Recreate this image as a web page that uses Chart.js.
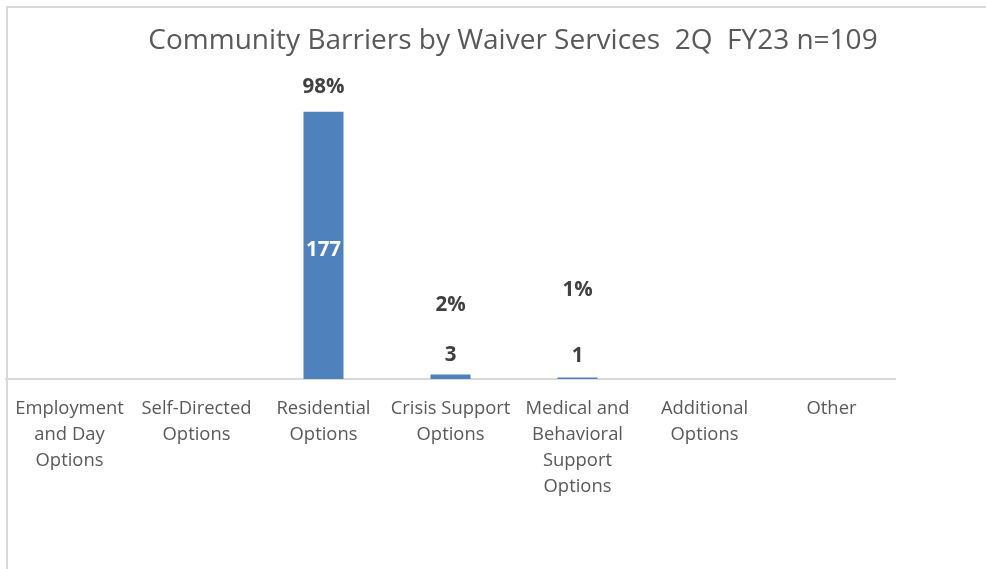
<!DOCTYPE html>
<html>
<head>
<meta charset="utf-8">
<script src="https://cdn.jsdelivr.net/npm/chart.js@4"></script>
<style>
  html, body { margin: 0; padding: 0; background: #fff; }
  #wrap { position: relative; width: 986px; height: 569px; overflow: hidden; }
  #frame { position: absolute; left: 6px; top: 6px; width: 1200px; height: 800px; border: 2px solid #d9d9d9; box-sizing: border-box; pointer-events: none; }
  canvas { position: absolute; left: 0; top: 0; }
</style>
</head>
<body>
<div id="wrap">
  <canvas id="c" width="986" height="569"></canvas>
  <div id="frame"></div>
</div>
<script>
const TITLE = 'Community Barriers by Waiver Services  2Q  FY23 n=109';
const categories = [
  ['Employment', 'and Day', 'Options'],
  ['Self-Directed', 'Options'],
  ['Residential', 'Options'],
  ['Crisis Support', 'Options'],
  ['Medical and', 'Behavioral', 'Support', 'Options'],
  ['Additional', 'Options'],
  ['Other']
];
const counts = [null, null, 177, 3, 1, null, null];
const percentLabels = [null, null, '98%', '2%', '1%', null, null];

// label placement (pixels above bar top); style, not data
const countOffset = { 2: 'inside', 3: 19, 4: 21 };
const pctOffset = { 2: 25, 3: 69, 4: 87 };

const labelPlugin = {
  id: 'labels',
  afterDatasetsDraw(chart) {
    const ctx = chart.ctx;
    const meta = chart.getDatasetMeta(0);
    ctx.save();
    ctx.textAlign = 'center';
    ctx.textBaseline = 'middle';
    ctx.font = 'bold 20.5px "Open Sans"';
    meta.data.forEach((bar, i) => {
      const v = counts[i];
      if (v == null) return;
      const off = countOffset[i];
      if (off === 'inside') {
        ctx.fillStyle = '#ffffff';
        ctx.fillText(String(v), bar.x, (bar.y + bar.base) / 2 + 5);
      } else {
        ctx.fillStyle = '#404040';
        ctx.fillText(String(v), bar.x, bar.y - off);
      }
      if (percentLabels[i]) {
        ctx.fillStyle = '#404040';
        ctx.fillText(percentLabels[i], bar.x, bar.y - pctOffset[i]);
      }
    });
    ctx.restore();
  }
};

const titlePlugin = {
  id: 'customTitle',
  afterDraw(chart) {
    const ctx = chart.ctx;
    ctx.save();
    ctx.font = '28px "Open Sans"';
    ctx.fillStyle = '#595959';
    ctx.textAlign = 'center';
    ctx.textBaseline = 'middle';
    ctx.fillText(TITLE, 513, 41);
    ctx.restore();
  }
};

new Chart(document.getElementById('c'), {
  type: 'bar',
  data: {
    labels: categories,
    datasets: [{
      data: counts,
      backgroundColor: '#4f81bd',
      borderWidth: 0,
      barPercentage: 0.315,
      categoryPercentage: 1.0
    }]
  },
  options: {
    responsive: false,
    animation: false,
    devicePixelRatio: 1,
    layout: { padding: { left: 6, right: 91, top: 77, bottom: 0 } },
    plugins: { legend: { display: false }, title: { display: false }, tooltip: { enabled: false } },
    scales: {
      y: { display: false, min: 0, max: 200 },
      x: {
        grid: { display: false },
        border: { display: true, color: '#d9d9d9', width: 2 },
        ticks: {
          color: '#595959',
          font: { family: '"Open Sans"', size: 18.4, lineHeight: 1.413 },
          padding: 9,
          maxRotation: 0,
          autoSkip: false
        },
        afterFit(s) { s.height = 190; }
      }
    }
  },
  plugins: [labelPlugin, titlePlugin]
});
</script>
</body>
</html>
